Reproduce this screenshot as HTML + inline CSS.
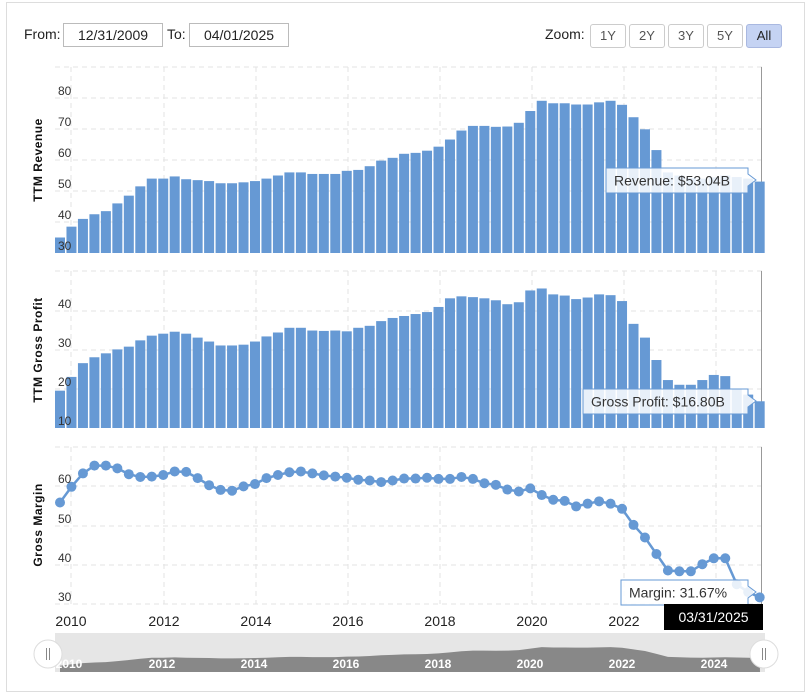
<!DOCTYPE html>
<html><head><meta charset="utf-8"><style>
body{margin:0;background:#fff;font-family:"Liberation Sans",sans-serif;}
#w{position:relative;width:812px;height:694px;overflow:hidden}
.box{position:absolute;border:1px solid #bbb;font-size:14px;color:#222;height:22px;line-height:22px;text-align:center;background:#fff}
.btn{position:absolute;top:24px;width:34px;height:22px;border:1px solid #ccc;border-radius:3px;font-size:13px;line-height:22px;text-align:center;color:#555;background:#fff}
.lab{position:absolute;font-size:14px;color:#222}
</style></head><body><div id="w">
<div style="position:absolute;left:6px;top:2px;width:797px;height:688px;border:1px solid #ddd"></div>
<div class="lab" style="left:24px;top:26px">From:</div>
<div class="box" style="left:63px;top:23px;width:98px">12/31/2009</div>
<div class="lab" style="left:167px;top:26px">To:</div>
<div class="box" style="left:189px;top:23px;width:98px">04/01/2025</div>
<div class="lab" style="left:545px;top:26px">Zoom:</div>
<div class="btn" style="left:590px">1Y</div>
<div class="btn" style="left:629px">2Y</div>
<div class="btn" style="left:668px">3Y</div>
<div class="btn" style="left:707px">5Y</div>
<div class="btn" style="left:746px;background:#c5d3f3;border-color:#a9b8e0;color:#222">All</div>
<svg id="s" width="812" height="694" style="position:absolute;left:0;top:0"></svg>
</div>
<script>
var rev=[35,38.5,41,42.5,43.5,46,48.5,51.5,54,54,54.7,53.8,53.5,53.2,52.5,52.5,52.8,53.2,54,55,56,56,55.5,55.5,55.5,56.5,56.8,58,59.8,60.7,62,62.3,63,64.3,66.6,69.5,71,71,70.7,70.8,72,75.8,79.1,78.3,78.3,77.9,77.9,78.6,79.1,77.8,73.8,69.9,63.2,56,55,54.2,54,54.4,55,54.5,54,53.04];
var gp=[19.5,23,26.5,28,29,30,30.7,32.3,33.5,34,34.5,34,33,32,31,31,31.2,32,33.3,34.3,35.5,35.5,34.8,34.7,34.8,34.6,35.5,36,37.2,38,38.5,39,39.5,40.8,43,43.5,43.3,43,42.5,41.5,42,45,45.5,44,43.7,42.8,43.2,44,43.8,42.3,36.5,33,27.3,22.2,21,21,22.2,23.5,23.2,20,18.5,16.8];
var gm=[55.8,59.8,63.2,65.2,65.2,64.5,63,62.3,62.4,62.8,63.7,63.6,62,60.2,59,58.8,59.9,60.5,62,62.8,63.5,63.7,63.2,62.7,62.4,62.1,61.6,61.4,61,61.4,61.9,61.9,62.1,61.8,61.8,62.3,61.8,60.7,60.3,59.1,58.6,59.4,57.7,56.5,56.2,54.8,55.5,56.1,55.5,54.2,50.1,46.9,42.7,38.5,38.3,38.3,40.1,41.6,41.6,35,33,31.67];
var h='',X=function(i){return 60+i*11.47};
var yrs=[71,164,256,348,440,532,624,716];
function grid(top,bot,lines){
 yrs.forEach(function(x){h+='<line x1="'+x+'" y1="'+top+'" x2="'+x+'" y2="'+bot+'" stroke="#e3e3e3" stroke-dasharray="5,4"/>';});
 lines.forEach(function(y){h+='<line x1="55" y1="'+y+'" x2="762" y2="'+y+'" stroke="#e3e3e3" stroke-dasharray="5,4"/>';});
 h+='<line x1="761.5" y1="'+top+'" x2="761.5" y2="'+bot+'" stroke="#999"/>';
}
function ylab(vals,ys){vals.forEach(function(v,k){h+='<text x="58" y="'+(ys[k]-3)+'" font-size="12" fill="#333">'+v+'</text>';});}
// revenue
grid(67,253,[67,98,129,160,191,222]);
rev.forEach(function(v,i){var y=253-(v-30)*3.1;h+='<rect x="'+(X(i)-5)+'" y="'+y+'" width="10" height="'+(253-y)+'" fill="#6699d4"/>';});
ylab([80,70,60,50,40,30],[98,129,160,191,222,253]);
// gp
grid(271,428,[271,311,350,389]);
gp.forEach(function(v,i){var y=428-(v-10)*3.93;h+='<rect x="'+(X(i)-5)+'" y="'+y+'" width="10" height="'+(428-y)+'" fill="#6699d4"/>';});
ylab([40,30,20,10],[311,350,389,428]);
// gm
grid(447,604,[447,486,526,565,604]);
var p='';gm.forEach(function(v,i){p+=(i?'L':'M')+X(i)+','+(486-(v-60)*3.93);});
h+='<path d="'+p+'" fill="none" stroke="#6699d4" stroke-width="2.5"/>';
gm.forEach(function(v,i){h+='<circle cx="'+X(i)+'" cy="'+(486-(v-60)*3.93)+'" r="5" fill="#6699d4"/>';});
ylab([60,50,40,30],[486,526,565,604]);
// axis titles
[['TTM Revenue',160],['TTM Gross Profit',350],['Gross Margin',525]].forEach(function(t){h+='<text transform="translate(42,'+t[1]+') rotate(-90)" text-anchor="middle" font-size="12" font-weight="bold" fill="#111" letter-spacing="0.5">'+t[0]+'</text>';});
// x labels
yrs.forEach(function(x,k){h+='<text x="'+x+'" y="626" text-anchor="middle" font-size="14" fill="#222">'+(2010+2*k)+'</text>';});
// tooltips
function tip(x1,y1,x2,txt){h+='<path d="M'+x1+','+y1+'H'+x2+'V'+(y1+6)+'L'+(x2+8)+','+(y1+12)+'L'+x2+','+(y1+18)+'V'+(y1+25)+'H'+x1+'Z" fill="rgba(255,255,255,0.85)" stroke="#6699d4"/><text x="'+(x1+8)+'" y="'+(y1+17.5)+'" font-size="14" fill="#333">'+txt+'</text>';}
tip(606,168,748,'Revenue: $53.04B');
tip(583,389,748,'Gross Profit: $16.80B');
tip(621,580,748,'Margin: 31.67%');
h+='<rect x="664" y="604" width="99" height="26" fill="#000"/><text x="713.5" y="622" text-anchor="middle" font-size="14" fill="#fff">03/31/2025</text>';
// navigator
h+='<rect x="55" y="633" width="710" height="39" fill="#e6e6e6"/>';
var q='M60,672';rev.forEach(function(v,i){q+='L'+X(i)+','+(672-(v-20)*0.42);});q+='L760,672Z';
h+='<path d="'+q+'" fill="#888"/>';
yrs.forEach(function(x,k){h+='<text x="'+(x-2)+'" y="668" text-anchor="middle" font-size="12" font-weight="bold" fill="#fff">'+(2010+2*k)+'</text>';});
[48,764].forEach(function(x){h+='<circle cx="'+x+'" cy="654" r="14" fill="#fff" stroke="#ddd"/><line x1="'+(x-1.5)+'" y1="648" x2="'+(x-1.5)+'" y2="660" stroke="#888"/><line x1="'+(x+1.5)+'" y1="648" x2="'+(x+1.5)+'" y2="660" stroke="#888"/>';});
document.getElementById('s').innerHTML=h;
</script></body></html>
